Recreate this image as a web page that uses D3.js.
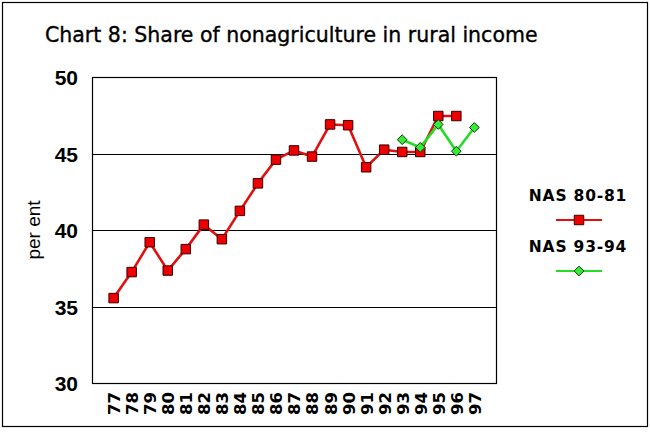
<!DOCTYPE html>
<html><head><meta charset="utf-8">
<script src="https://cdn.jsdelivr.net/npm/d3@7"></script>
<style>body{margin:0;background:#fff}svg{display:block}</style>
</head><body>
<svg id="chart" width="650" height="432"></svg>
<script>
const categories = ["77","78","79","80","81","82","83","84","85","86","87","88","89","90","91","92","93","94","95","96","97"];
const nas8081 = [35.55,37.25,39.2,37.35,38.75,40.35,39.4,41.25,43.05,44.6,45.2,44.8,46.9,46.85,44.1,45.25,45.1,45.1,47.45,47.45,null];
const nas9394 = [null,null,null,null,null,null,null,null,null,null,null,null,null,null,null,null,45.9,45.4,46.9,45.15,46.7];
const yTicks = [30,35,40,45,50];
const title = "Chart 8: Share of nonagriculture in rural income";
const yLabel = "per ent";
const seriesNames = ["NAS 80-81","NAS 93-94"];

const svg = d3.select("#chart");
const plot = {left:92, right:496, top:77, bottom:383};

// outer border
svg.append("rect").attr("x",2.5).attr("y",2.5).attr("width",645).attr("height",424)
  .attr("fill","none").attr("stroke","#000").attr("stroke-width",1.2);

svg.append("text").attr("x",45).attr("y",42)
  .attr("font-family","DejaVu Sans, sans-serif").attr("font-size",20.5)
  .attr("stroke","#000").attr("stroke-width",0.35)
  .attr("fill","#000").text(title);

const x = d3.scalePoint().domain(categories).range([plot.left, plot.right]).padding(1.2);
const y = d3.scaleLinear().domain([30,50]).range([plot.bottom, plot.top]);

// gridlines
svg.append("g").selectAll("line").data(yTicks.filter(t=>t>30 && t<50)).join("line")
  .attr("x1",plot.left).attr("x2",plot.right)
  .attr("y1",d=>Math.round(y(d))+0.5).attr("y2",d=>Math.round(y(d))+0.5)
  .attr("stroke","#000").attr("stroke-width",1.2);

// plot frame
svg.append("rect").attr("x",plot.left+0.5).attr("y",plot.top+0.5)
  .attr("width",plot.right-plot.left).attr("height",plot.bottom-plot.top)
  .attr("fill","none").attr("stroke","#000").attr("stroke-width",1.2);

// y axis
const yAxis = d3.axisLeft(y).tickValues(yTicks).tickSize(0).tickPadding(14);
const ya = svg.append("g").attr("transform",`translate(${plot.left},0)`).call(yAxis);
ya.select(".domain").remove();
ya.selectAll("text").attr("font-family","Liberation Sans, Arial, sans-serif")
  .attr("font-size",21).attr("font-weight","bold").attr("fill","#000").attr("dy","0.36em");

// x axis
const xAxis = d3.axisBottom(x).tickSize(0).tickPadding(0);
const xa = svg.append("g").attr("transform",`translate(0,${plot.bottom})`).call(xAxis);
xa.select(".domain").remove();
xa.selectAll("text")
  .attr("font-family","DejaVu Sans, sans-serif").attr("font-size",16.5).attr("font-weight","bold")
  .attr("fill","#000")
  .attr("text-anchor","end")
  .attr("transform","rotate(-90)")
  .attr("x",-9).attr("y",0).attr("dy","0.36em");

// y label
svg.append("text").attr("transform","translate(40,230) rotate(-90)")
  .attr("text-anchor","middle").attr("font-family","Liberation Sans, Arial, sans-serif")
  .attr("font-size",19).attr("fill","#000").text(yLabel);

const redLine = "#e01010", redFill = "#ee0000", redStroke = "#3a0000";
const greenLine = "#22dd22", greenFill = "#33ee33", greenStroke = "#0a3a0a";

const line = d3.line().defined(d=>d.v!=null).x(d=>x(d.c)).y(d=>y(d.v));
const d1 = categories.map((c,i)=>({c, v:nas8081[i]}));
const d2 = categories.map((c,i)=>({c, v:nas9394[i]}));

svg.append("path").datum(d1).attr("d",line).attr("fill","none")
  .attr("stroke",redLine).attr("stroke-width",2.6).attr("stroke-linejoin","round");
svg.append("path").datum(d2).attr("d",line).attr("fill","none")
  .attr("stroke",greenLine).attr("stroke-width",2.6).attr("stroke-linejoin","round");

const sq = d3.symbol().type(d3.symbolSquare).size(90);
const dm = d3.symbol().type(d3.symbolDiamond2).size(60);

svg.append("g").selectAll("path").data(d1.filter(d=>d.v!=null)).join("path")
  .attr("d",sq).attr("transform",d=>`translate(${x(d.c)},${y(d.v)})`)
  .attr("fill",redFill).attr("stroke",redStroke).attr("stroke-width",1);
svg.append("g").selectAll("path").data(d2.filter(d=>d.v!=null)).join("path")
  .attr("d",dm).attr("transform",d=>`translate(${x(d.c)},${y(d.v)})`)
  .attr("fill",greenFill).attr("stroke",greenStroke).attr("stroke-width",1);

// legend
const lg = svg.append("g");
const legendItems = [
  {name:seriesNames[0], ty:201, ly:220, stroke:redLine, sym:sq, fill:redFill, os:redStroke},
  {name:seriesNames[1], ty:252, ly:271, stroke:greenLine, sym:dm, fill:greenFill, os:greenStroke}
];
legendItems.forEach(it=>{
  lg.append("text").attr("x",578).attr("y",it.ty).attr("text-anchor","middle")
    .attr("font-family","DejaVu Sans, sans-serif").attr("font-size",15.5).attr("font-weight","bold")
    .attr("letter-spacing",0.8).attr("fill","#000").text(it.name);
  lg.append("line").attr("x1",556).attr("x2",602).attr("y1",it.ly).attr("y2",it.ly)
    .attr("stroke",it.stroke).attr("stroke-width",2);
  lg.append("path").attr("d",it.sym).attr("transform",`translate(579,${it.ly})`)
    .attr("fill",it.fill).attr("stroke",it.os).attr("stroke-width",1);
});
</script>
</body></html>
